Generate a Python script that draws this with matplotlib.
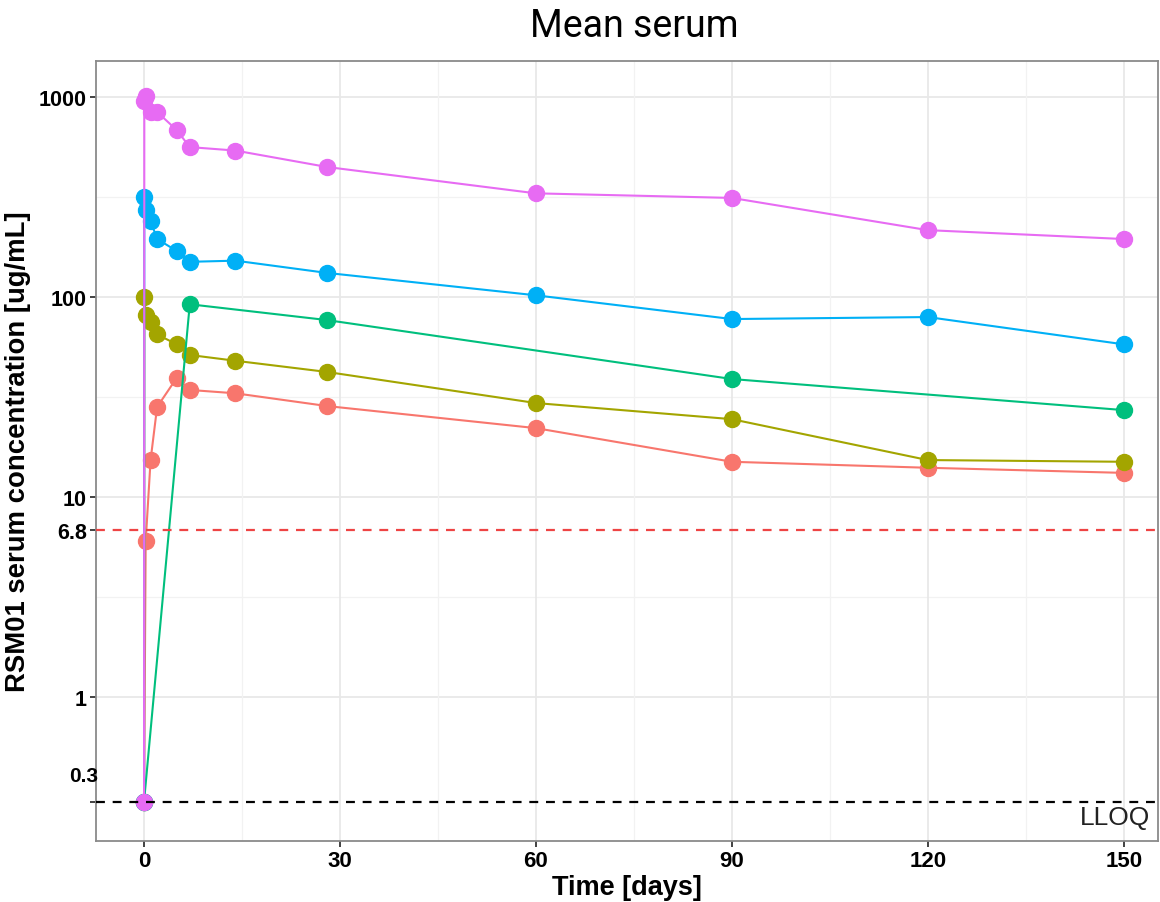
import numpy as np
import matplotlib
matplotlib.use('Agg')
import matplotlib.pyplot as plt
from matplotlib.ticker import FixedLocator, NullFormatter

# Mean serum concentration per group (ggplot hue colours)
t_red = [0, 0.25, 1, 2, 5, 7, 14, 28, 60, 90, 120, 150]
c_red = [0.3, 6.0, 15.3, 28.2, 39.4, 34.3, 33.0, 28.5, 22.1, 15.0, 14.0, 13.2]

t_olive = [0, 0.04, 0.25, 1, 2, 5, 7, 14, 28, 60, 90, 120, 150]
c_olive = [0.3, 100, 81, 75, 65, 58, 51.3, 48, 42.2, 29.5, 24.5, 15.3, 15.0]

t_green = [0, 7, 28, 90, 150]
c_green = [0.3, 92, 76.7, 38.9, 27.2]

t_blue = [0, 0.04, 0.25, 1, 2, 5, 7, 14, 28, 60, 90, 120, 150]
c_blue = [0.3, 316, 271, 240, 195, 170, 150, 152, 132, 102, 77.6, 79.4, 58]

t_mag = [0, 0.04, 0.25, 1, 2, 5, 7, 14, 28, 60, 90, 120, 150]
c_mag = [0.3, 960, 1015, 842, 842, 684, 562, 540, 447, 330, 313, 216, 195]

series = [
    (t_red, c_red, '#F8766D'),
    (t_olive, c_olive, '#A3A500'),
    (t_green, c_green, '#00BF7D'),
    (t_blue, c_blue, '#00B0F6'),
    (t_mag, c_mag, '#E76BF3'),
]

lloq = 0.3
threshold = 6.8

x_ticks = [0, 30, 60, 90, 120, 150]
x_minor = [15, 45, 75, 105, 135]
y_ticks = [0.3, 1, 6.8, 10, 100, 1000]
y_labels = ['', '1', '6.8', '10', '100', '1000']
y_grid = [1, 10, 100, 1000]
y_minor = [3.16, 31.6, 316]

fig = plt.figure(figsize=(11.6, 9.03), dpi=100)
ax = fig.add_axes([0.0828, 0.0676, 0.9152, 0.8637])

for y in y_grid:
    ax.axhline(y, color='#e8e8e8', lw=1.3, zorder=0)
for y in y_minor:
    ax.axhline(y, color='#f2f2f2', lw=0.9, zorder=0)
for x in x_ticks:
    ax.axvline(x, color='#e8e8e8', lw=1.3, zorder=0)
for x in x_minor:
    ax.axvline(x, color='#f2f2f2', lw=0.9, zorder=0)

for t, c, col in series:
    ax.plot(t, c, '-o', color=col, lw=1.5, ms=11.5, mec=col, zorder=3)

ax.axhline(threshold, color='#EE4444', lw=1.6, dashes=(4, 3.5), zorder=4)
ax.axhline(lloq, color='black', lw=1.6, dashes=(4, 3.5), zorder=4)

ax.set_yscale('log')
ax.set_ylim(0.1905, 1514)
ax.set_xlim(-7.35, 155.2)

ax.xaxis.set_major_locator(FixedLocator(x_ticks))
ax.set_xticklabels([str(x) for x in x_ticks], fontsize=16, fontweight='bold',
                   family='Liberation Sans')
ax.yaxis.set_major_locator(FixedLocator(y_ticks))
ax.yaxis.set_minor_locator(FixedLocator([]))
ax.yaxis.set_minor_formatter(NullFormatter())
ax.set_yticklabels(y_labels, fontsize=15.5, fontweight='bold', family='Liberation Sans')
ax.tick_params(axis='both', length=4.5, width=1.3, color='#333333', pad=2)
for tick in ax.yaxis.get_major_ticks():
    if abs(tick.get_loc() - threshold) < 1e-6:
        tick.tick1line.set_color('#EE4444')

ax.annotate('0.3', xy=(0, lloq), xycoords=('axes fraction', 'data'),
            xytext=(1.5, 19), textcoords='offset points', ha='right', va='center',
            fontsize=15, fontweight='bold', family='Liberation Sans')
ax.annotate('LLOQ', xy=(0.993, lloq), xycoords=('axes fraction', 'data'),
            xytext=(0, -11.5), textcoords='offset points', ha='right', va='center',
            fontsize=19, family='Liberation Sans', color='#222222')

for sp in ax.spines.values():
    sp.set_color('#8a8a8a')
    sp.set_linewidth(1.3)

ax.set_xlabel('Time [days]', fontsize=19.5, fontweight='bold', family='Liberation Sans',
              labelpad=2)
ax.set_ylabel('RSM01 serum concentration [ug/mL]', fontsize=19.8, fontweight='bold',
              family='Liberation Sans', labelpad=6)
ax.set_title('Mean serum', fontsize=27, family='Roboto', pad=18, x=0.507)

fig.savefig('out.png', dpi=100)
